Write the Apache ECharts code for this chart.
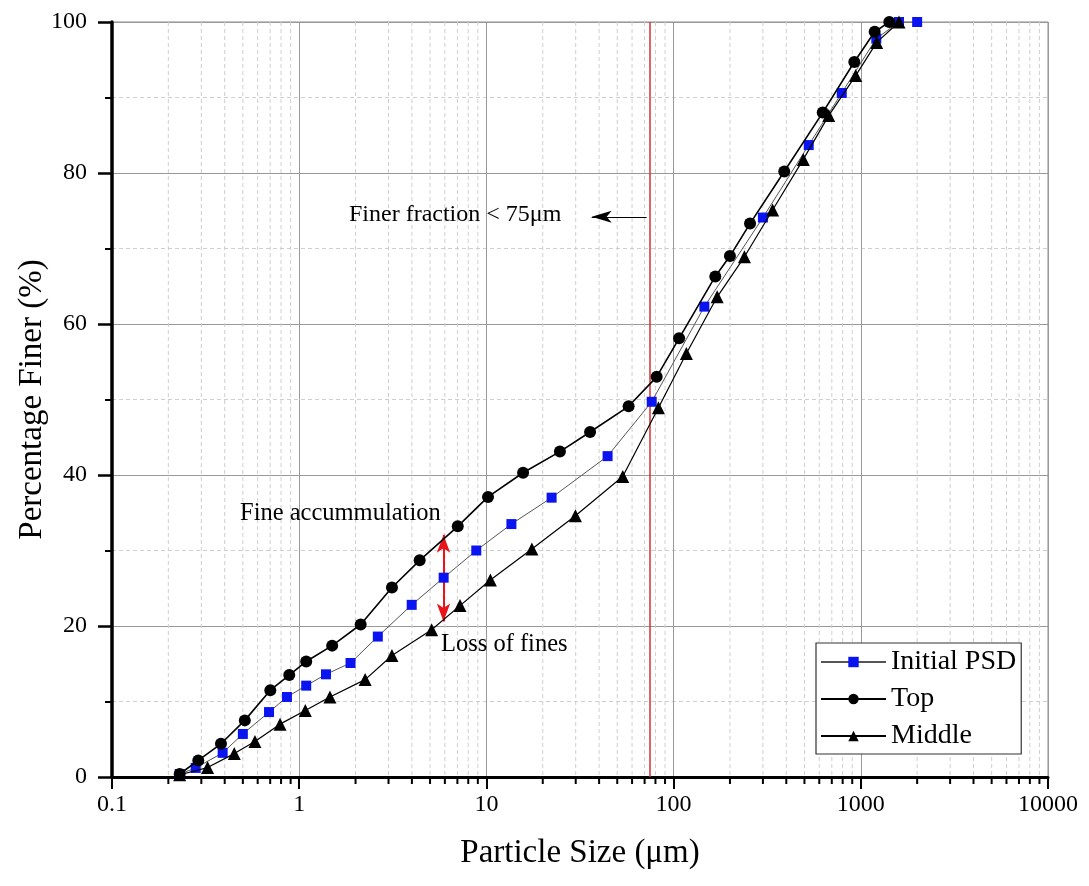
<!DOCTYPE html>
<html>
<head>
<meta charset="utf-8">
<script src="https://cdn.jsdelivr.net/npm/echarts@6/dist/echarts.min.js"></script>
<style>
html,body{margin:0;padding:0;background:#fff;}
#chart{width:1089px;height:886px;}
</style>
</head>
<body>
<div id="chart"></div>
<script>
// ---- data ----
const initialX = [0.23, 0.28, 0.39, 0.50, 0.69, 0.86, 1.09, 1.39, 1.88, 2.63, 3.99, 5.91, 8.83, 13.6, 22.3, 44.4, 76.4, 146, 300, 527, 791, 1210, 1600, 2000];
const initialY = [0.4, 1.2, 3.2, 5.7, 8.6, 10.6, 12.1, 13.6, 15.1, 18.6, 22.8, 26.4, 30.0, 33.5, 37.0, 42.5, 49.7, 62.3, 74.1, 83.7, 90.6, 97.8, 100, 100];

const topX = [0.23, 0.289, 0.382, 0.512, 0.701, 0.885, 1.09, 1.50, 2.13, 3.13, 4.40, 7.03, 10.2, 15.7, 24.7, 35.8, 57.5, 81.2, 107, 167, 200, 256, 390, 626, 923, 1186, 1420];
const topY = [0.4, 2.2, 4.4, 7.5, 11.5, 13.5, 15.3, 17.4, 20.2, 25.1, 28.7, 33.2, 37.1, 40.3, 43.1, 45.7, 49.1, 53.0, 58.1, 66.3, 69.0, 73.3, 80.2, 88.0, 94.7, 98.7, 100];

const middleX = [0.23, 0.324, 0.450, 0.580, 0.790, 1.078, 1.46, 2.25, 3.13, 5.10, 7.23, 10.5, 17.5, 29.9, 53.5, 83.0, 117, 171, 239, 338, 493, 674, 939, 1216, 1600];
const middleY = [0.3, 1.25, 3.1, 4.7, 7.0, 8.8, 10.6, 12.9, 16.1, 19.5, 22.7, 26.1, 30.2, 34.6, 39.8, 48.9, 56.1, 63.6, 68.9, 75.1, 81.8, 87.6, 92.9, 97.3, 100];

const seriesNames = ['Initial PSD', 'Top', 'Middle'];
const xTickLabels = ['0.1', '1', '10', '100', '1000', '10000'];
const yTickLabels = ['0', '20', '40', '60', '80', '100'];
const minorXValues = [0.2,0.3,0.4,0.5,0.6,0.7,0.8,0.9, 2,3,4,5,6,7,8,9, 20,30,40,50,60,70,80,90, 200,300,400,500,600,700,800,900, 2000,3000,4000,5000,6000,7000,8000,9000];
const cutoffSize = 75;                       // red vertical line (µm)
const doubleArrow = {x: 5.9, y1: 20.6, y2: 32.1};
const finerArrow = {x1: 71.8, x2: 36.5, y: 74.2};
const annotations = ['Finer fraction < 75\u03bcm', 'Fine accummulation', 'Loss of fines'];

const zip = (xs, ys) => xs.map((x, i) => [x, ys[i]]);
const FONT = "'Liberation Serif', 'Times New Roman', serif";

const chart = echarts.init(document.getElementById('chart'), null, {renderer: 'canvas'});

const option = {
  animation: false,
  backgroundColor: '#fff',
  textStyle: {fontFamily: FONT, color: '#000'},
  grid: {left: 112, right: 41, top: 22, bottom: 109, containLabel: false, outerBoundsMode: 'none',
         show: true, borderColor: '#8a8a8a', borderWidth: 1, backgroundColor: 'transparent'},
  legend: {
    data: seriesNames,
    orient: 'vertical',
    left: 816, top: 643,
    itemWidth: 65, itemHeight: 13, itemGap: 9,
    padding: [5, 5, 4, 4],
    borderColor: '#333', borderWidth: 1.2,
    backgroundColor: '#fff',
    textStyle: {fontFamily: FONT, fontSize: 28, lineHeight: 28, color: '#000'}
  },
  xAxis: {
    type: 'log', logBase: 10, min: 0.1, max: 10000, splitNumber: 5,
    name: 'Particle Size (\u03bcm)', nameLocation: 'middle', nameGap: 60, nameMoveOverlap: false,
    nameTextStyle: {fontFamily: FONT, fontSize: 33, color: '#000'},
    axisLine: {show: true, onZero: false, lineStyle: {color: '#000', width: 3}},
    axisTick: {show: true, inside: false, length: 12, lineStyle: {color: '#000', width: 2}},
    axisLabel: {fontFamily: FONT, fontSize: 24, color: '#000', margin: 16,
      formatter: v => { const s = xTickLabels.find(t => Math.abs(parseFloat(t) - v) < 1e-6 * Math.max(1, v)); return s || ''; }},
    splitLine: {show: true, lineStyle: {color: '#999', width: 1}},
    minorTick: {show: false}, minorSplitLine: {show: false}
  },
  yAxis: {
    type: 'value', min: 0, max: 100, interval: 20,
    name: 'Percentage Finer (%)', nameLocation: 'middle', nameGap: 63, nameRotate: 90, nameMoveOverlap: false,
    nameTextStyle: {fontFamily: FONT, fontSize: 33, color: '#000'},
    axisLine: {show: true, onZero: false, lineStyle: {color: '#000', width: 3.5}},
    axisTick: {show: true, inside: false, length: 14, lineStyle: {color: '#000', width: 2.5}},
    minorTick: {show: true, splitNumber: 2, length: 7, lineStyle: {color: '#000', width: 2}},
    axisLabel: {fontFamily: FONT, fontSize: 24, color: '#000', margin: 25,
      formatter: v => yTickLabels.find(t => parseFloat(t) === v) || ''},
    splitLine: {show: true, lineStyle: {color: '#999', width: 1}},
    minorSplitLine: {show: true, lineStyle: {color: '#cfcfcf', width: 1, type: [4, 3]}}
  },
  series: [
    {
      name: 'minorGrid', type: 'custom', silent: true, clip: false, z: 1,
      data: minorXValues.map(v => [v, 0]),
      renderItem: (params, api) => {
        const x = api.coord([api.value(0), 0])[0];
        const cs = params.coordSys;
        const bottom = cs.y + cs.height;
        return {type: 'group', children: [
          {type: 'line', shape: {x1: x, y1: cs.y, x2: x, y2: bottom}, style: {stroke: '#cfcfcf', lineWidth: 1, lineDash: [4, 3]}},
          {type: 'line', shape: {x1: x, y1: bottom, x2: x, y2: bottom + 7}, style: {stroke: '#000', lineWidth: 2}}
        ]};
      }
    },
    {
      name: 'Initial PSD', type: 'line', z: 3,
      data: zip(initialX, initialY),
      symbol: 'rect', symbolSize: 10,
      itemStyle: {color: '#0a14f0'},
      lineStyle: {color: '#555', width: 1},
      markLine: {
        silent: true, symbol: ['none', 'none'], label: {show: false}, z: 2,
        data: [
          {xAxis: cutoffSize, lineStyle: {color: '#d23232', width: 1.5, type: 'solid'}},
          [
            {coord: [doubleArrow.x, doubleArrow.y1], symbol: 'arrow', symbolSize: [10, 18], lineStyle: {color: '#e8141a', width: 2, type: 'solid'}},
            {coord: [doubleArrow.x, doubleArrow.y2], symbol: 'arrow', symbolSize: [10, 18]}
          ],
          [
            {coord: [finerArrow.x1, finerArrow.y], symbol: 'none', lineStyle: {color: '#000', width: 1, type: 'solid'}},
            {coord: [finerArrow.x2, finerArrow.y], symbol: 'arrow', symbolSize: [9, 20]}
          ]
        ]
      }
    },
    {
      name: 'Top', type: 'line', z: 4,
      data: zip(topX, topY),
      symbol: 'circle', symbolSize: 12,
      itemStyle: {color: '#000'},
      lineStyle: {color: '#000', width: 1.6}
    },
    {
      name: 'Middle', type: 'line', z: 4,
      data: zip(middleX, middleY),
      symbol: 'triangle', symbolSize: 13,
      itemStyle: {color: '#000'},
      lineStyle: {color: '#000', width: 1.2}
    }
  ],
  graphic: [
    {type: 'text', left: 349, top: 203, z: 10, style: {text: annotations[0], font: "24px " + FONT, fill: '#000'}},
    {type: 'text', left: 240, top: 501, z: 10, style: {text: annotations[1], font: "24.5px " + FONT, fill: '#000'}},
    {type: 'text', left: 441, top: 632, z: 10, style: {text: annotations[2], font: "24.5px " + FONT, fill: '#000'}}
  ]
};
chart.setOption(option);
</script>
</body>
</html>
